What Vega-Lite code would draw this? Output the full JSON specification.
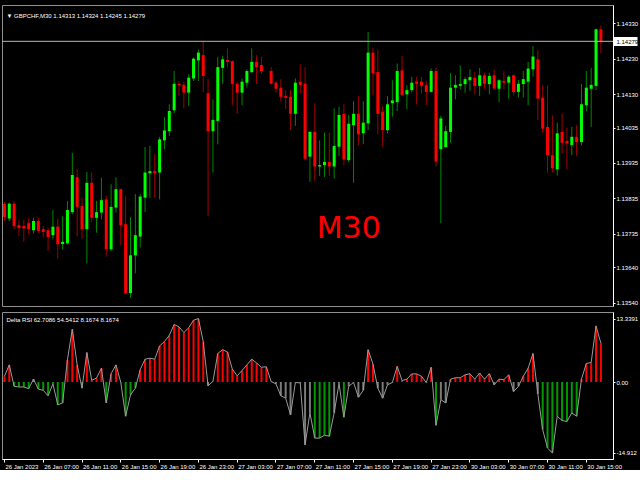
{
"$schema": "https://vega.github.io/schema/vega-lite/v6.json",
"background": "#000000",
"padding": {"left": 1, "top": 4, "right": 0, "bottom": 0},
"spacing": 4,
"data": {"values": [
{"t":"26 Jan 03:00","o":1.13819,"h":1.13825,"l":1.13771,"c":1.13782,"dir":"down","d":1.2,"rc":"red"},
{"t":"26 Jan 03:30","o":1.13778,"h":1.13823,"l":1.13771,"c":1.13820,"dir":"up","d":3.6,"rc":"red"},
{"t":"26 Jan 04:00","o":1.13820,"h":1.13828,"l":1.13748,"c":1.13757,"dir":"down","d":-0.9,"rc":"green"},
{"t":"26 Jan 04:30","o":1.13759,"h":1.13774,"l":1.13729,"c":1.13751,"dir":"down","d":-1.05,"rc":"green"},
{"t":"26 Jan 05:00","o":1.13757,"h":1.13774,"l":1.13712,"c":1.13750,"dir":"down","d":-1.05,"rc":"green"},
{"t":"26 Jan 05:30","o":1.13765,"h":1.13779,"l":1.13733,"c":1.13748,"dir":"down","d":-1.4,"rc":"green"},
{"t":"26 Jan 06:00","o":1.13745,"h":1.13780,"l":1.13736,"c":1.13771,"dir":"up","d":0.6,"rc":"gray"},
{"t":"26 Jan 06:30","o":1.13771,"h":1.13780,"l":1.13738,"c":1.13743,"dir":"down","d":-1.5,"rc":"green"},
{"t":"26 Jan 07:00","o":1.13748,"h":1.13757,"l":1.13724,"c":1.13740,"dir":"down","d":-1.75,"rc":"green"},
{"t":"26 Jan 07:30","o":1.13745,"h":1.13752,"l":1.13686,"c":1.13726,"dir":"down","d":-2.9,"rc":"green"},
{"t":"26 Jan 08:00","o":1.13731,"h":1.13802,"l":1.13719,"c":1.13755,"dir":"up","d":-0.4,"rc":"green"},
{"t":"26 Jan 08:30","o":1.13755,"h":1.13778,"l":1.13664,"c":1.13705,"dir":"down","d":-4.8,"rc":"green"},
{"t":"26 Jan 09:00","o":1.13706,"h":1.13785,"l":1.13691,"c":1.13712,"dir":"up","d":-4.4,"rc":"green"},
{"t":"26 Jan 09:30","o":1.13708,"h":1.13828,"l":1.13705,"c":1.13802,"dir":"up","d":4.7,"rc":"red"},
{"t":"26 Jan 10:00","o":1.13796,"h":1.13964,"l":1.13790,"c":1.13901,"dir":"up","d":11.1,"rc":"red"},
{"t":"26 Jan 10:30","o":1.13895,"h":1.13919,"l":1.13727,"c":1.13811,"dir":"down","d":3.6,"rc":"red"},
{"t":"26 Jan 11:00","o":1.13813,"h":1.13837,"l":1.13721,"c":1.13748,"dir":"down","d":-1.3,"rc":"green"},
{"t":"26 Jan 11:30","o":1.13748,"h":1.13910,"l":1.13651,"c":1.13879,"dir":"up","d":6.2,"rc":"red"},
{"t":"26 Jan 12:00","o":1.13879,"h":1.13908,"l":1.13768,"c":1.13780,"dir":"down","d":0.35,"rc":"red"},
{"t":"26 Jan 12:30","o":1.13780,"h":1.13828,"l":1.13738,"c":1.13796,"dir":"up","d":0.85,"rc":"red"},
{"t":"26 Jan 13:00","o":1.13795,"h":1.13893,"l":1.13776,"c":1.13830,"dir":"up","d":2.9,"rc":"red"},
{"t":"26 Jan 13:30","o":1.13832,"h":1.13842,"l":1.13670,"c":1.13691,"dir":"down","d":-4.4,"rc":"green"},
{"t":"26 Jan 14:00","o":1.13691,"h":1.13875,"l":1.13686,"c":1.13811,"dir":"up","d":1.75,"rc":"red"},
{"t":"26 Jan 14:30","o":1.13809,"h":1.13895,"l":1.13795,"c":1.13861,"dir":"up","d":3.6,"rc":"red"},
{"t":"26 Jan 15:00","o":1.13861,"h":1.13862,"l":1.13702,"c":1.13759,"dir":"down","d":-0.1,"rc":"green"},
{"t":"26 Jan 15:30","o":1.13762,"h":1.13842,"l":1.13564,"c":1.13567,"dir":"down","d":-7.2,"rc":"green"},
{"t":"26 Jan 16:00","o":1.13567,"h":1.13782,"l":1.13554,"c":1.13674,"dir":"up","d":-2.7,"rc":"green"},
{"t":"26 Jan 16:30","o":1.13674,"h":1.13847,"l":1.13623,"c":1.13731,"dir":"up","d":-1.3,"rc":"green"},
{"t":"26 Jan 17:00","o":1.13727,"h":1.13847,"l":1.13696,"c":1.13840,"dir":"up","d":2.6,"rc":"red"},
{"t":"26 Jan 17:30","o":1.13837,"h":1.13980,"l":1.13796,"c":1.13908,"dir":"up","d":4.8,"rc":"red"},
{"t":"26 Jan 18:00","o":1.13906,"h":1.13983,"l":1.13837,"c":1.13912,"dir":"up","d":5.0,"rc":"red"},
{"t":"26 Jan 18:30","o":1.13912,"h":1.13960,"l":1.13837,"c":1.13906,"dir":"down","d":4.8,"rc":"red"},
{"t":"26 Jan 19:00","o":1.13908,"h":1.14009,"l":1.13832,"c":1.14002,"dir":"up","d":7.6,"rc":"red"},
{"t":"26 Jan 19:30","o":1.13999,"h":1.14065,"l":1.13974,"c":1.14027,"dir":"up","d":8.5,"rc":"red"},
{"t":"26 Jan 20:00","o":1.14025,"h":1.14101,"l":1.14011,"c":1.14082,"dir":"up","d":9.8,"rc":"red"},
{"t":"26 Jan 20:30","o":1.14084,"h":1.14195,"l":1.14076,"c":1.14159,"dir":"up","d":12.1,"rc":"red"},
{"t":"26 Jan 21:00","o":1.14159,"h":1.14167,"l":1.14127,"c":1.14155,"dir":"down","d":11.6,"rc":"red"},
{"t":"26 Jan 21:30","o":1.14156,"h":1.14165,"l":1.14089,"c":1.14134,"dir":"down","d":10.4,"rc":"red"},
{"t":"26 Jan 22:00","o":1.14134,"h":1.14186,"l":1.14096,"c":1.14176,"dir":"up","d":11.4,"rc":"red"},
{"t":"26 Jan 22:30","o":1.14174,"h":1.14233,"l":1.14167,"c":1.14230,"dir":"up","d":13.0,"rc":"red"},
{"t":"26 Jan 23:00","o":1.14225,"h":1.14256,"l":1.14167,"c":1.14247,"dir":"up","d":13.3391,"rc":"red"},
{"t":"26 Jan 23:30","o":1.14240,"h":1.14280,"l":1.14136,"c":1.14181,"dir":"down","d":8.5,"rc":"red"},
{"t":"27 Jan 00:00","o":1.14132,"h":1.14173,"l":1.13785,"c":1.14025,"dir":"down","d":-0.8,"rc":"gray"},
{"t":"27 Jan 00:30","o":1.14025,"h":1.14115,"l":1.13908,"c":1.14057,"dir":"up","d":0.15,"rc":"red"},
{"t":"27 Jan 01:00","o":1.14054,"h":1.14235,"l":1.13988,"c":1.14206,"dir":"up","d":6.0,"rc":"red"},
{"t":"27 Jan 01:30","o":1.14204,"h":1.14238,"l":1.14159,"c":1.14228,"dir":"up","d":6.8,"rc":"red"},
{"t":"27 Jan 02:00","o":1.14226,"h":1.14259,"l":1.14206,"c":1.14221,"dir":"down","d":6.3,"rc":"red"},
{"t":"27 Jan 02:30","o":1.14223,"h":1.14225,"l":1.14098,"c":1.14159,"dir":"down","d":2.7,"rc":"red"},
{"t":"27 Jan 03:00","o":1.14159,"h":1.14164,"l":1.14074,"c":1.14134,"dir":"down","d":1.3,"rc":"red"},
{"t":"27 Jan 03:30","o":1.14134,"h":1.14174,"l":1.14098,"c":1.14165,"dir":"up","d":2.4,"rc":"red"},
{"t":"27 Jan 04:00","o":1.14162,"h":1.14200,"l":1.14148,"c":1.14195,"dir":"up","d":3.6,"rc":"red"},
{"t":"27 Jan 04:30","o":1.14192,"h":1.14259,"l":1.14189,"c":1.14221,"dir":"up","d":4.8,"rc":"red"},
{"t":"27 Jan 05:00","o":1.14221,"h":1.14240,"l":1.14158,"c":1.14206,"dir":"down","d":4.0,"rc":"red"},
{"t":"27 Jan 05:30","o":1.14212,"h":1.14235,"l":1.14186,"c":1.14195,"dir":"down","d":3.1,"rc":"red"},
{"t":"27 Jan 06:00","o":1.14195,"h":1.14200,"l":1.14190,"c":1.14195,"dir":"doji","d":3.2,"rc":"red"},
{"t":"27 Jan 06:30","o":1.14195,"h":1.14206,"l":1.14158,"c":1.14159,"dir":"down","d":0.1,"rc":"red"},
{"t":"27 Jan 07:00","o":1.14162,"h":1.14167,"l":1.14134,"c":1.14145,"dir":"down","d":-0.4,"rc":"gray"},
{"t":"27 Jan 07:30","o":1.14148,"h":1.14172,"l":1.14110,"c":1.14122,"dir":"down","d":-2.9,"rc":"gray"},
{"t":"27 Jan 08:00","o":1.14124,"h":1.14141,"l":1.14087,"c":1.14119,"dir":"down","d":-3.4,"rc":"gray"},
{"t":"27 Jan 08:30","o":1.14122,"h":1.14141,"l":1.14028,"c":1.14074,"dir":"down","d":-6.9,"rc":"gray"},
{"t":"27 Jan 09:00","o":1.14074,"h":1.14174,"l":1.14040,"c":1.14162,"dir":"up","d":-0.1,"rc":"gray"},
{"t":"27 Jan 09:30","o":1.14165,"h":1.14214,"l":1.14132,"c":1.14156,"dir":"down","d":-0.2,"rc":"gray"},
{"t":"27 Jan 10:00","o":1.14159,"h":1.14206,"l":1.13943,"c":1.13947,"dir":"down","d":-13.2,"rc":"gray"},
{"t":"27 Jan 10:30","o":1.13953,"h":1.14025,"l":1.13882,"c":1.14023,"dir":"up","d":-6.5,"rc":"gray"},
{"t":"27 Jan 11:00","o":1.14023,"h":1.14104,"l":1.13884,"c":1.13925,"dir":"down","d":-11.8,"rc":"green"},
{"t":"27 Jan 11:30","o":1.13925,"h":1.13999,"l":1.13898,"c":1.13929,"dir":"up","d":-11.8,"rc":"green"},
{"t":"27 Jan 12:00","o":1.13929,"h":1.14021,"l":1.13896,"c":1.13938,"dir":"up","d":-11.2,"rc":"green"},
{"t":"27 Jan 12:30","o":1.13938,"h":1.14021,"l":1.13898,"c":1.13925,"dir":"down","d":-11.4,"rc":"green"},
{"t":"27 Jan 13:00","o":1.13925,"h":1.14089,"l":1.13891,"c":1.13983,"dir":"up","d":-6.5,"rc":"gray"},
{"t":"27 Jan 13:30","o":1.13981,"h":1.14094,"l":1.13955,"c":1.14071,"dir":"up","d":-0.3,"rc":"gray"},
{"t":"27 Jan 14:00","o":1.14074,"h":1.14101,"l":1.13929,"c":1.13945,"dir":"down","d":-7.4,"rc":"green"},
{"t":"27 Jan 14:30","o":1.13943,"h":1.14071,"l":1.13938,"c":1.14046,"dir":"up","d":-0.9,"rc":"gray"},
{"t":"27 Jan 15:00","o":1.14042,"h":1.14110,"l":1.13879,"c":1.14074,"dir":"up","d":-0.1,"rc":"gray"},
{"t":"27 Jan 15:30","o":1.14074,"h":1.14124,"l":1.13985,"c":1.14016,"dir":"down","d":-3.2,"rc":"gray"},
{"t":"27 Jan 16:00","o":1.14019,"h":1.14110,"l":1.13988,"c":1.14049,"dir":"up","d":-1.75,"rc":"gray"},
{"t":"27 Jan 16:30","o":1.14047,"h":1.14305,"l":1.14028,"c":1.14247,"dir":"up","d":6.8,"rc":"red"},
{"t":"27 Jan 17:00","o":1.14247,"h":1.14261,"l":1.14126,"c":1.14189,"dir":"down","d":3.8,"rc":"red"},
{"t":"27 Jan 17:30","o":1.14192,"h":1.14256,"l":1.14016,"c":1.14074,"dir":"down","d":-1.3,"rc":"gray"},
{"t":"27 Jan 18:00","o":1.14080,"h":1.14096,"l":1.13981,"c":1.14028,"dir":"down","d":-3.4,"rc":"gray"},
{"t":"27 Jan 18:30","o":1.14028,"h":1.14124,"l":1.14019,"c":1.14101,"dir":"up","d":-0.6,"rc":"gray"},
{"t":"27 Jan 19:00","o":1.14104,"h":1.14169,"l":1.14066,"c":1.14112,"dir":"up","d":-0.1,"rc":"gray"},
{"t":"27 Jan 19:30","o":1.14107,"h":1.14216,"l":1.14082,"c":1.14195,"dir":"up","d":3.3,"rc":"red"},
{"t":"27 Jan 20:00","o":1.14197,"h":1.14238,"l":1.14124,"c":1.14127,"dir":"down","d":0.3,"rc":"red"},
{"t":"27 Jan 20:30","o":1.14129,"h":1.14155,"l":1.14087,"c":1.14141,"dir":"up","d":0.6,"rc":"red"},
{"t":"27 Jan 21:00","o":1.14141,"h":1.14179,"l":1.14134,"c":1.14162,"dir":"up","d":1.7,"rc":"red"},
{"t":"27 Jan 21:30","o":1.14165,"h":1.14179,"l":1.14101,"c":1.14159,"dir":"down","d":1.7,"rc":"red"},
{"t":"27 Jan 22:00","o":1.14165,"h":1.14178,"l":1.14131,"c":1.14153,"dir":"down","d":1.2,"rc":"red"},
{"t":"27 Jan 22:30","o":1.14155,"h":1.14167,"l":1.14098,"c":1.14136,"dir":"down","d":-0.1,"rc":"gray"},
{"t":"27 Jan 23:00","o":1.14136,"h":1.14202,"l":1.14134,"c":1.14195,"dir":"up","d":3.1,"rc":"red"},
{"t":"27 Jan 23:30","o":1.14195,"h":1.14204,"l":1.13925,"c":1.13939,"dir":"down","d":-9.1,"rc":"green"},
{"t":"30 Jan 00:00","o":1.13974,"h":1.14068,"l":1.13765,"c":1.14061,"dir":"up","d":-3.7,"rc":"gray"},
{"t":"30 Jan 00:30","o":1.13980,"h":1.14040,"l":1.13978,"c":1.14025,"dir":"up","d":-4.4,"rc":"gray"},
{"t":"30 Jan 01:00","o":1.14023,"h":1.14189,"l":1.13992,"c":1.14148,"dir":"up","d":0.6,"rc":"red"},
{"t":"30 Jan 01:30","o":1.14148,"h":1.14183,"l":1.14115,"c":1.14156,"dir":"up","d":0.9,"rc":"red"},
{"t":"30 Jan 02:00","o":1.14153,"h":1.14211,"l":1.14143,"c":1.14158,"dir":"up","d":0.9,"rc":"red"},
{"t":"30 Jan 02:30","o":1.14158,"h":1.14178,"l":1.14134,"c":1.14172,"dir":"up","d":1.5,"rc":"red"},
{"t":"30 Jan 03:00","o":1.14169,"h":1.14200,"l":1.14139,"c":1.14178,"dir":"up","d":1.75,"rc":"red"},
{"t":"30 Jan 03:30","o":1.14176,"h":1.14192,"l":1.14129,"c":1.14153,"dir":"down","d":0.6,"rc":"red"},
{"t":"30 Jan 04:00","o":1.14153,"h":1.14204,"l":1.14124,"c":1.14183,"dir":"up","d":1.9,"rc":"red"},
{"t":"30 Jan 04:30","o":1.14183,"h":1.14190,"l":1.14145,"c":1.14159,"dir":"down","d":0.6,"rc":"red"},
{"t":"30 Jan 05:00","o":1.14158,"h":1.14190,"l":1.14129,"c":1.14181,"dir":"up","d":1.75,"rc":"red"},
{"t":"30 Jan 05:30","o":1.14183,"h":1.14200,"l":1.14141,"c":1.14146,"dir":"down","d":-0.6,"rc":"gray"},
{"t":"30 Jan 06:00","o":1.14145,"h":1.14172,"l":1.14107,"c":1.14169,"dir":"up","d":0.6,"rc":"red"},
{"t":"30 Jan 06:30","o":1.14167,"h":1.14195,"l":1.14143,"c":1.14162,"dir":"down","d":0.5,"rc":"red"},
{"t":"30 Jan 07:00","o":1.14162,"h":1.14183,"l":1.14117,"c":1.14179,"dir":"up","d":1.5,"rc":"red"},
{"t":"30 Jan 07:30","o":1.14183,"h":1.14185,"l":1.14126,"c":1.14136,"dir":"down","d":-2.0,"rc":"gray"},
{"t":"30 Jan 08:00","o":1.14136,"h":1.14170,"l":1.14120,"c":1.14159,"dir":"up","d":-0.9,"rc":"gray"},
{"t":"30 Jan 08:30","o":1.14158,"h":1.14195,"l":1.14120,"c":1.14172,"dir":"up","d":1.2,"rc":"red"},
{"t":"30 Jan 09:00","o":1.14165,"h":1.14221,"l":1.14098,"c":1.14202,"dir":"up","d":2.9,"rc":"red"},
{"t":"30 Jan 09:30","o":1.14200,"h":1.14266,"l":1.14179,"c":1.14236,"dir":"up","d":6.0,"rc":"red"},
{"t":"30 Jan 10:00","o":1.14228,"h":1.14254,"l":1.14056,"c":1.14117,"dir":"down","d":-2.5,"rc":"gray"},
{"t":"30 Jan 10:30","o":1.14120,"h":1.14155,"l":1.14021,"c":1.14032,"dir":"down","d":-10.0,"rc":"green"},
{"t":"30 Jan 11:00","o":1.14037,"h":1.14155,"l":1.13908,"c":1.13957,"dir":"down","d":-13.9,"rc":"green"},
{"t":"30 Jan 11:30","o":1.13957,"h":1.14070,"l":1.13908,"c":1.13920,"dir":"down","d":-14.912,"rc":"green"},
{"t":"30 Jan 12:00","o":1.13917,"h":1.14049,"l":1.13900,"c":1.14019,"dir":"up","d":-7.2,"rc":"green"},
{"t":"30 Jan 12:30","o":1.14023,"h":1.14074,"l":1.13962,"c":1.13992,"dir":"down","d":-8.1,"rc":"green"},
{"t":"30 Jan 13:00","o":1.13997,"h":1.14035,"l":1.13917,"c":1.13990,"dir":"down","d":-8.3,"rc":"green"},
{"t":"30 Jan 13:30","o":1.13986,"h":1.14037,"l":1.13957,"c":1.14009,"dir":"up","d":-6.5,"rc":"green"},
{"t":"30 Jan 14:00","o":1.14009,"h":1.14042,"l":1.13955,"c":1.13994,"dir":"down","d":-7.2,"rc":"green"},
{"t":"30 Jan 14:30","o":1.13994,"h":1.14158,"l":1.13985,"c":1.14101,"dir":"up","d":0.6,"rc":"red"},
{"t":"30 Jan 15:00","o":1.14098,"h":1.14195,"l":1.14082,"c":1.14148,"dir":"up","d":3.9,"rc":"red"},
{"t":"30 Jan 15:30","o":1.14145,"h":1.14204,"l":1.14037,"c":1.14156,"dir":"up","d":4.1,"rc":"red"},
{"t":"30 Jan 16:00","o":1.14153,"h":1.14315,"l":1.14141,"c":1.14313,"dir":"up","d":11.8,"rc":"red"},
{"t":"30 Jan 16:30","o":1.14313,"h":1.14324,"l":1.14245,"c":1.14279,"dir":"down","d":8.1674,"rc":"red"}
]},
"config": {
  "view": {"stroke": "#909090", "strokeWidth": 1},
  "axis": {"labelFont": "Liberation Sans", "labelFontSize": 6, "labelColor": "#FFFFFF", "domainColor": "#FFFFFF", "tickColor": "#FFFFFF", "grid": false, "labelOverlap": false}
},
"resolve": {"scale": {"x": "shared"}},
"vconcat": [
 {
  "width": 611, "height": 301,
  "encoding": {
    "y": {"type": "quantitative", "scale": {"domain": [1.135307, 1.143817], "nice": false, "zero": false},
       "axis": {"orient": "right", "title": null, "format": ".5f", "labelOverlap": false, "labelBound": false, "labelSeparation": 0,
         "values": [1.1433, 1.14279, 1.1423, 1.1413, 1.14035, 1.13935, 1.13835, 1.13735, 1.1364, 1.1354],
         "tickSize": {"condition": {"test": "datum.value == 1.14279", "value": 24}, "value": 2},
         "tickWidth": {"condition": {"test": "datum.value == 1.14279", "value": 9}, "value": 1},
         "labelColor": {"condition": {"test": "datum.value == 1.14279", "value": "#000000"}, "value": "#FFFFFF"},
         "labelPadding": {"condition": {"test": "datum.value == 1.14279", "value": -21}, "value": 1}}}
  },
  "layer": [
   {"mark": {"type": "rule", "strokeWidth": 1, "clip": true},
    "encoding": {
     "x": {"field": "t", "type": "ordinal", "scale": {"type": "band", "paddingInner": 0, "paddingOuter": 1.3, "align": 0, "round": false}, "axis": null},
     "y": {"field": "h"},
     "y2": {"field": "l"},
     "color": {"condition": [{"test": "datum.dir == 'up'", "value": "#008800"}, {"test": "datum.dir == 'doji'", "value": "#000000"}], "value": "#A00000"}
    }},
   {"mark": {"type": "bar", "width": 3, "clip": true},
    "encoding": {
     "x": {"field": "t", "type": "ordinal", "axis": null},
     "y": {"field": "o"},
     "y2": {"field": "c"},
     "color": {"condition": [{"test": "datum.dir == 'up'", "value": "#00FF00"}, {"test": "datum.dir == 'doji'", "value": "#000000"}], "value": "#FF0000"}
    }},
   {"data": {"values": [{"p": 1.14279}]},
    "mark": {"type": "rule", "color": "#B8B8B8", "strokeWidth": 1},
    "encoding": {"y": {"field": "p"}}},
   {"data": {"values": [{"s": "▼ GBPCHF,M30  1.14313 1.14324 1.14245 1.14279"}]},
    "mark": {"type": "text", "align": "left", "baseline": "middle", "dx": 2, "fontSize": 6, "color": "#FFFFFF", "font": "Liberation Sans"},
    "encoding": {"x": {"datum": "26 Jan 03:00", "type": "ordinal", "axis": null}, "y": {"datum": 1.14351}, "text": {"field": "s"}}},
   {"data": {"values": [{"s": "M30"}]},
    "mark": {"type": "text", "align": "center", "baseline": "middle", "fontSize": 30, "font": "DejaVu Sans", "color": "#FF0000"},
    "encoding": {"x": {"datum": "27 Jan 14:30", "type": "ordinal", "axis": null}, "y": {"datum": 1.13748}, "text": {"field": "s"}}}
  ]
 },
 {
  "width": 611, "height": 147,
  "layer": [
   {"mark": {"type": "rule", "strokeWidth": 2, "clip": true},
    "encoding": {
     "x": {"field": "t", "type": "ordinal", "scale": {"type": "band", "paddingInner": 0, "paddingOuter": 1.3, "align": 0, "round": false},
       "axis": {"title": null, "labelOverlap": false, "values": ["26 Jan 03:00","26 Jan 07:00","26 Jan 11:00","26 Jan 15:00","26 Jan 19:00","26 Jan 23:00","27 Jan 03:00","27 Jan 07:00","27 Jan 11:00","27 Jan 15:00","27 Jan 19:00","27 Jan 23:00","30 Jan 03:00","30 Jan 07:00","30 Jan 11:00","30 Jan 15:00"],
         "labelExpr": "datum.label == '26 Jan 03:00' ? '26 Jan 2023' : datum.label",
         "labelAngle": 0, "labelAlign": "left", "labelBaseline": "top", "labelPadding": 1, "labelOffset": 1, "tickSize": 3, "bandPosition": 0.5}},
     "y": {"field": "d", "type": "quantitative", "scale": {"domain": [-16.19, 14.72], "nice": false, "zero": false},
       "axis": {"orient": "right", "title": null, "labelOverlap": false, "labelBound": false, "values": [13.3391, 0, -14.912], "labelExpr": "datum.value == 0 ? '0.00' : '' + datum.value", "tickSize": 2, "labelPadding": 1}},
     "y2": {"datum": 0},
     "color": {"field": "rc", "type": "nominal", "scale": {"domain": ["red", "green", "gray"], "range": ["#FF0000", "#009900", "#7A7A7A"]}, "legend": null}
    }},
   {"mark": {"type": "line", "color": "#9A9A9A", "strokeWidth": 1, "clip": true},
    "encoding": {"x": {"field": "t", "type": "ordinal"}, "y": {"field": "d", "type": "quantitative"}}},
   {"data": {"values": [{"s": "Delta RSI 62.7086 54.5412 8.1674 8.1674"}]},
    "mark": {"type": "text", "align": "left", "baseline": "middle", "dx": 2, "fontSize": 6, "color": "#FFFFFF", "font": "Liberation Sans"},
    "encoding": {"x": {"datum": "26 Jan 03:00", "type": "ordinal"}, "y": {"datum": 13.1, "type": "quantitative"}, "text": {"field": "s"}}}
  ]
 }
]
}
